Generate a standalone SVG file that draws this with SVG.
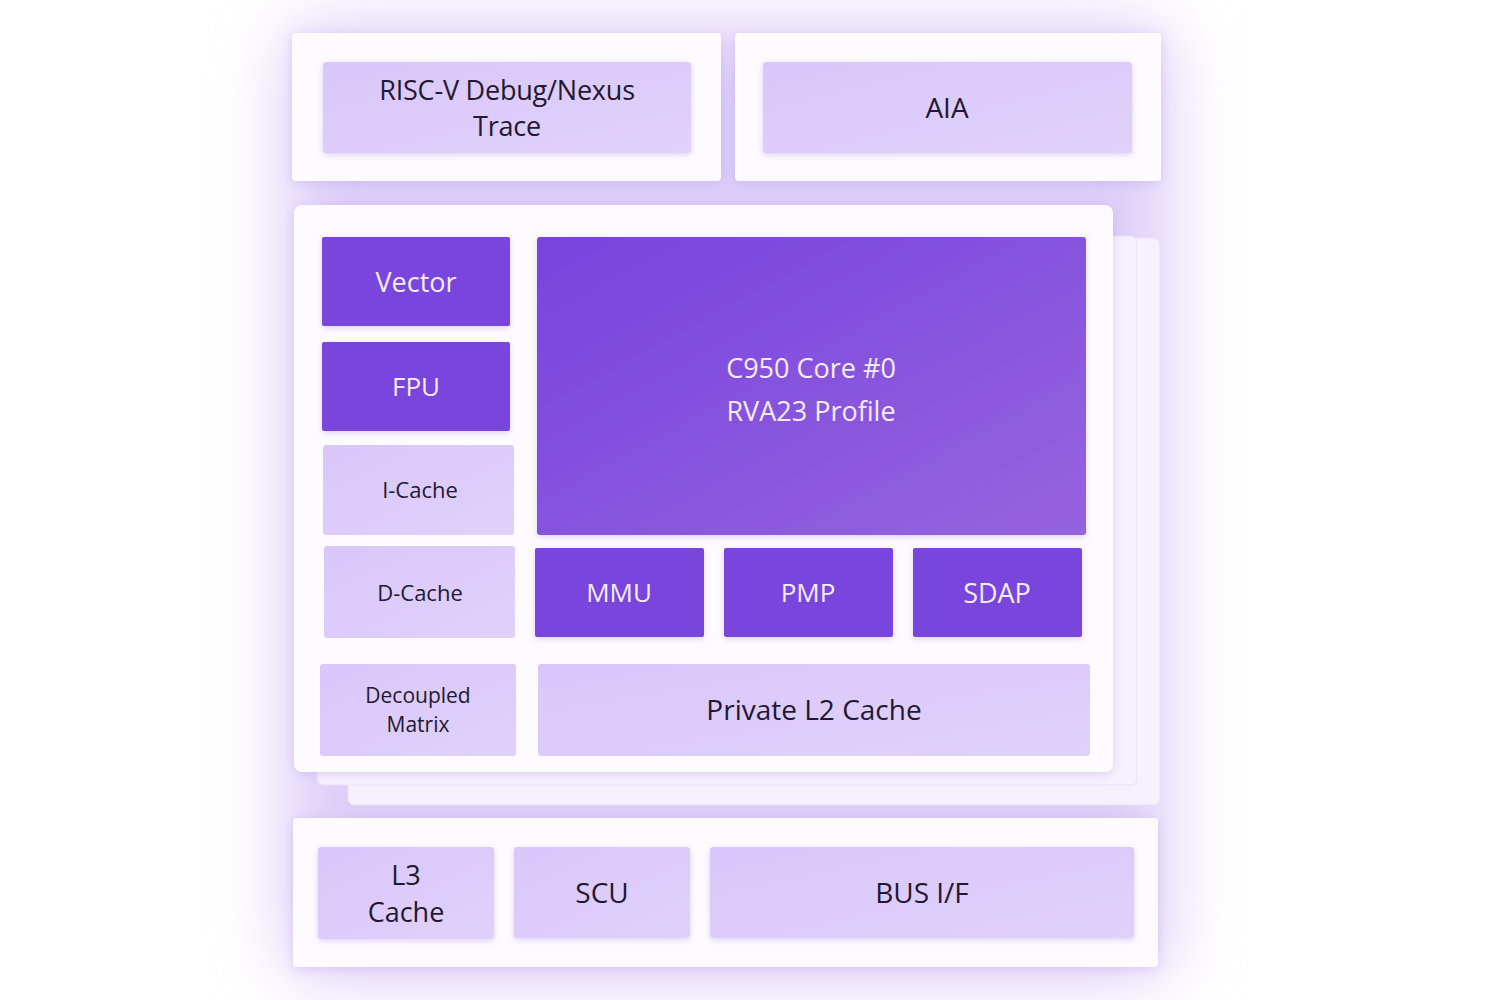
<svg xmlns="http://www.w3.org/2000/svg" width="1500" height="1000" viewBox="0 0 1500 1000">
<defs>
<style>
.card{fill:#fdfbff}
.back{fill:#f6f1fd;stroke:#e9dff9;stroke-width:1}
.lt{fill:url(#gl)}
.dk{fill:#7a45dc}
.t{font-family:"Open Sans","Noto Sans",sans-serif;text-anchor:middle;dominant-baseline:central}
.td{fill:#221833}
.tw{fill:#f3ecff}
</style>
<linearGradient id="gl" x1="0" y1="0" x2="1" y2="1">
<stop offset="0" stop-color="#dac7fa"/>
<stop offset="1" stop-color="#e0d1fa"/>
</linearGradient>
<linearGradient id="gc" x1="0" y1="0" x2="1" y2="1">
<stop offset="0" stop-color="#7843dd"/>
<stop offset="1" stop-color="#9663df"/>
</linearGradient>
<filter id="glow" x="-30%" y="-30%" width="160%" height="160%">
<feGaussianBlur stdDeviation="35"/>
</filter>
<filter id="sh" x="-10%" y="-10%" width="120%" height="120%">
<feDropShadow dx="0" dy="2" stdDeviation="6" flood-color="#b58cf0" flood-opacity="0.35"/>
</filter>
<filter id="bsh" x="-10%" y="-10%" width="120%" height="120%">
<feDropShadow dx="0" dy="2" stdDeviation="3" flood-color="#9a70e0" flood-opacity="0.3"/>
</filter>
</defs>
<rect width="1500" height="1000" fill="#ffffff"/>
<rect x="285" y="25" width="885" height="955" rx="30" fill="#dccdf8" filter="url(#glow)"/>

<g id="top-left-card">
<rect class="card" x="292" y="33" width="429" height="148" rx="4" filter="url(#sh)"/>
</g>
<g id="top-right-card">
<rect class="card" x="735" y="33" width="426" height="148" rx="4" filter="url(#sh)"/>
</g>
<g id="riscv-debug">
<rect class="lt" x="323" y="62" width="368" height="91" rx="3" filter="url(#bsh)"/>
<text class="t td" x="507" y="89" font-size="27" letter-spacing="-0.2">RISC-V Debug/Nexus</text>
<text class="t td" x="507" y="125" font-size="27" letter-spacing="-0.2">Trace</text>
</g>
<g id="aia">
<rect class="lt" x="763" y="62" width="369" height="91" rx="3" filter="url(#bsh)"/>
<text class="t td" x="947" y="107" font-size="28">AIA</text>
</g>

<g id="core-stack">
<rect class="back" x="348" y="238" width="812" height="567" rx="6"/>
<rect class="back" x="317" y="236" width="820" height="549" rx="6"/>
<rect class="card" x="294" y="205" width="819" height="567" rx="8" filter="url(#sh)"/>
</g>

<g id="vector">
<rect class="dk" x="322" y="237" width="188" height="89" rx="2" filter="url(#bsh)"/>
<text class="t tw" x="416" y="281" font-size="27">Vector</text>
</g>
<g id="fpu">
<rect class="dk" x="322" y="342" width="188" height="89" rx="2" filter="url(#bsh)"/>
<text class="t tw" x="416" y="386" font-size="26">FPU</text>
</g>
<g id="icache">
<rect class="lt" x="323" y="445" width="191" height="90" rx="3"/>
<text class="t td" x="420" y="489" font-size="22">I-Cache</text>
</g>
<g id="dcache">
<rect class="lt" x="324" y="546" width="191" height="92" rx="3"/>
<text class="t td" x="420" y="592" font-size="22">D-Cache</text>
</g>
<g id="decoupled-matrix">
<rect class="lt" x="320" y="664" width="196" height="92" rx="3"/>
<text class="t td" x="418" y="695" font-size="21">Decoupled</text>
<text class="t td" x="418" y="724" font-size="21">Matrix</text>
</g>
<g id="core">
<rect fill="url(#gc)" x="537" y="237" width="549" height="298" rx="3" filter="url(#bsh)"/>
<text class="t tw" x="811" y="367" font-size="27">C950 Core #0</text>
<text class="t tw" x="811" y="410" font-size="27">RVA23 Profile</text>
</g>
<g id="mmu">
<rect class="dk" x="535" y="548" width="169" height="89" rx="2" filter="url(#bsh)"/>
<text class="t tw" x="619" y="592" font-size="26">MMU</text>
</g>
<g id="pmp">
<rect class="dk" x="724" y="548" width="169" height="89" rx="2" filter="url(#bsh)"/>
<text class="t tw" x="808" y="592" font-size="26">PMP</text>
</g>
<g id="sdap">
<rect class="dk" x="913" y="548" width="169" height="89" rx="2" filter="url(#bsh)"/>
<text class="t tw" x="997" y="592" font-size="27">SDAP</text>
</g>
<g id="private-l2">
<rect class="lt" x="538" y="664" width="552" height="92" rx="3"/>
<text class="t td" x="814" y="709" font-size="28">Private L2 Cache</text>
</g>

<g id="bottom-card">
<rect class="card" x="293" y="818" width="865" height="149" rx="4" filter="url(#sh)"/>
</g>
<g id="l3-cache">
<rect class="lt" x="318" y="847" width="176" height="92" rx="3" filter="url(#bsh)"/>
<text class="t td" x="406" y="874" font-size="27">L3</text>
<text class="t td" x="406" y="911" font-size="27">Cache</text>
</g>
<g id="scu">
<rect class="lt" x="514" y="847" width="176" height="91" rx="3" filter="url(#bsh)"/>
<text class="t td" x="602" y="892" font-size="28">SCU</text>
</g>
<g id="bus-if">
<rect class="lt" x="710" y="847" width="424" height="91" rx="3" filter="url(#bsh)"/>
<text class="t td" x="922" y="892" font-size="28">BUS I/F</text>
</g>
<g id="connectors"/>
</svg>
